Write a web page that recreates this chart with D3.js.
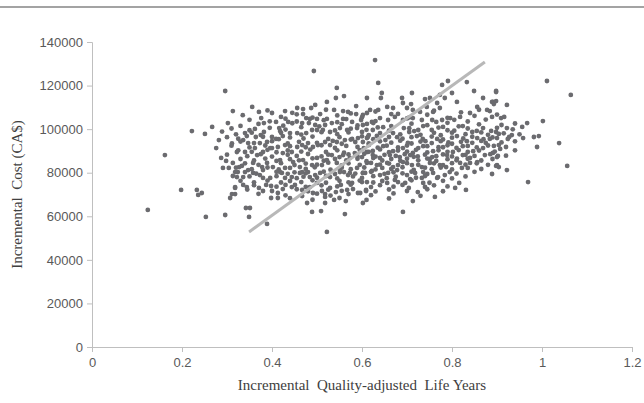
<!DOCTYPE html>
<html>
<head>
<meta charset="utf-8">
<script src="https://cdn.jsdelivr.net/npm/d3@7.9.0/dist/d3.min.js"></script>
<style>
  body { margin: 0; background: #fff; }
  svg { display: block; }
</style>
</head>
<body>
<div id="chart"></div>
<script>
// x ticks and y ticks
const xTicks = [0, 0.2, 0.4, 0.6, 0.8, 1, 1.2];
const yTicks = [0, 20000, 40000, 60000, 80000, 100000, 120000, 140000];

// trend line end points [qaly, cost]
const trendLine = [[0.349, 52800], [0.873, 130800]];

// scattered points: [incremental QALY, incremental cost]
const leftPoints = [
  [0.162, 88100], [0.276, 91300], [0.322, 89500], [0.287, 86800], [0.298, 85400],
  [0.291, 82200], [0.304, 82200], [0.327, 82600], [0.313, 78500], [0.322, 78000],
  [0.198, 72100], [0.233, 72100], [0.244, 70700], [0.236, 69800], [0.318, 73000],
  [0.318, 70200], [0.307, 68400], [0.124, 62900], [0.253, 59700], [0.296, 60600],
  [0.222, 99100], [0.296, 117500], [0.267, 101000], [0.282, 95000], [0.251, 97800],
  [0.302, 102800], [0.311, 93400], [0.289, 98900]
];

const topPoints = [
  [0.493, 126700], [0.544, 118900], [0.629, 131700], [1.011, 122100], [1.064, 115700],
  [0.542, 114300], [0.560, 115200], [0.636, 121200], [0.791, 122100], [0.778, 120300],
  [0.833, 121600]
];

const upperLeftPoints = [
  [0.356, 110200], [0.313, 108300], [0.522, 112500], [0.587, 110600], [0.371, 107900],
  [0.400, 107400], [0.429, 108300], [0.456, 109700], [0.469, 109200], [0.487, 109700],
  [0.496, 111100], [0.507, 106900], [0.538, 108800], [0.558, 108300], [0.569, 107900],
  [0.587, 106900], [0.611, 107400], [0.376, 105100], [0.382, 102800], [0.409, 103300],
  [0.436, 103300], [0.469, 106900], [0.476, 105100], [0.484, 104700], [0.500, 104700],
  [0.522, 104700], [0.467, 102800], [0.482, 102800], [0.496, 101900], [0.518, 101900],
  [0.533, 102800], [0.558, 104700], [0.578, 103300], [0.598, 104200], [0.611, 102400],
  [0.362, 100100], [0.382, 98700], [0.416, 100500], [0.418, 99100], [0.340, 98200],
  [0.344, 96800], [0.336, 95000], [0.347, 93600], [0.364, 96400], [0.373, 93600],
  [0.389, 94100], [0.400, 96400], [0.409, 95500], [0.424, 96800], [0.440, 98200],
  [0.456, 98200], [0.476, 98200], [0.489, 99600], [0.500, 99600], [0.513, 99600],
  [0.529, 98700], [0.551, 100500], [0.567, 99600], [0.589, 100500], [0.600, 98700]
];

const midLeftPoints = [
  [0.340, 89500], [0.362, 91300], [0.367, 88100], [0.380, 89500], [0.396, 91300],
  [0.413, 91800], [0.429, 92700], [0.424, 89000], [0.444, 89500], [0.456, 91800],
  [0.467, 92700], [0.480, 93600], [0.491, 91800], [0.502, 92700], [0.518, 94100],
  [0.529, 92700], [0.544, 94100], [0.562, 95000], [0.578, 95500], [0.591, 95900],
  [0.602, 94100], [0.613, 96400], [0.313, 84500], [0.333, 83100], [0.324, 80300],
  [0.347, 81200], [0.358, 84500], [0.378, 82600], [0.389, 84500], [0.402, 82600],
  [0.418, 85800], [0.429, 82200], [0.447, 84900], [0.462, 82600], [0.469, 85800],
  [0.489, 83500], [0.500, 86800], [0.511, 83500], [0.522, 85800], [0.533, 88100],
  [0.544, 84500], [0.558, 88100], [0.573, 86800], [0.584, 89000], [0.600, 87200],
  [0.611, 89500], [0.336, 78000], [0.373, 78900], [0.396, 77600], [0.422, 79900],
  [0.444, 78000], [0.462, 79900], [0.484, 78000], [0.507, 79900], [0.529, 78000],
  [0.551, 81200], [0.569, 78900], [0.589, 82200], [0.607, 79900]
];

const lowerLeftPoints = [
  [0.318, 80300], [0.358, 79900], [0.380, 81200], [0.418, 80300], [0.429, 77600],
  [0.467, 80300], [0.480, 80300], [0.496, 78900], [0.551, 80300], [0.573, 79900],
  [0.602, 79900], [0.318, 73400], [0.336, 74400], [0.344, 73400], [0.371, 73000],
  [0.387, 74400], [0.398, 73900], [0.400, 71600], [0.413, 70700], [0.424, 72500],
  [0.444, 73400], [0.451, 74400], [0.467, 72100], [0.484, 73400], [0.491, 70700],
  [0.500, 75300], [0.511, 71600], [0.518, 70200], [0.529, 73000], [0.542, 71100],
  [0.553, 74400], [0.567, 72100], [0.578, 75300], [0.591, 70700], [0.600, 75700],
  [0.609, 72100], [0.311, 70200], [0.398, 68400], [0.413, 68400], [0.467, 69300],
  [0.478, 66100], [0.518, 68900], [0.518, 66100], [0.538, 67500], [0.564, 67000],
  [0.602, 66100], [0.342, 63800], [0.351, 63800], [0.349, 59700], [0.489, 62000],
  [0.509, 62400], [0.562, 61000], [0.389, 56500], [0.522, 52800]
];

const upperRightPoints = [
  [0.644, 116600], [0.642, 114300], [0.611, 114300], [0.689, 114300], [0.711, 116600],
  [0.691, 112000], [0.709, 111500], [0.740, 113800], [0.751, 114300], [0.849, 117500],
  [0.869, 114300], [0.898, 117000], [0.891, 112500], [0.773, 115700], [0.784, 114300],
  [0.800, 116600], [0.811, 112500], [0.767, 112000], [0.773, 109700], [0.758, 107900],
  [0.744, 110200], [0.729, 107900], [0.713, 108800], [0.700, 109700], [0.669, 109700],
  [0.656, 110200], [0.636, 108800], [0.618, 108800], [0.602, 106500], [0.856, 110200],
  [0.878, 108800], [0.840, 107400], [0.818, 105600], [0.889, 105600], [0.796, 105100],
  [0.778, 104200], [0.756, 104200], [0.733, 104200], [0.713, 105100], [0.691, 104200],
  [0.673, 105600], [0.658, 104200], [0.640, 105100], [0.622, 103300], [0.602, 101900]
];

const coreRightPoints = [
  [0.624, 99600], [0.647, 100900], [0.669, 98200], [0.693, 100500], [0.716, 99100],
  [0.736, 101400], [0.755, 99600], [0.780, 101000], [0.805, 99300], [0.824, 101400],
  [0.845, 98700], [0.869, 100500], [0.887, 99200], [0.611, 95900], [0.633, 96900],
  [0.652, 95000], [0.678, 96300], [0.702, 93700], [0.722, 96800], [0.741, 94500],
  [0.767, 95500], [0.792, 93900], [0.811, 96800], [0.833, 94500], [0.856, 95900],
  [0.875, 93700], [0.900, 95900], [0.604, 91300], [0.624, 90000], [0.647, 92200],
  [0.669, 89900], [0.691, 91300], [0.713, 89100], [0.736, 92200], [0.758, 89900],
  [0.780, 91700], [0.802, 89500], [0.824, 92200], [0.847, 89900], [0.869, 91300],
  [0.891, 89100], [0.624, 88100], [0.640, 86800], [0.662, 88100], [0.684, 87200],
  [0.707, 88100], [0.724, 87500], [0.751, 86300], [0.756, 87200], [0.789, 88100],
  [0.811, 86500], [0.824, 88100], [0.840, 86800], [0.856, 84900], [0.873, 88100],
  [0.900, 87200], [0.611, 84500], [0.633, 83500], [0.656, 84500], [0.669, 82600],
  [0.691, 84900], [0.711, 83500], [0.733, 82600], [0.751, 84500], [0.773, 83500],
  [0.787, 82600], [0.818, 84500], [0.822, 82200], [0.840, 84500], [0.900, 83500],
  [0.602, 79900], [0.622, 80800], [0.640, 78900], [0.658, 79900], [0.678, 81200],
  [0.700, 78900], [0.718, 79900], [0.736, 80300], [0.758, 79900], [0.769, 78000],
  [0.784, 78900], [0.889, 79400]
];

const lowerRightPoints = [
  [0.611, 75700], [0.656, 75300], [0.673, 76700], [0.696, 75300], [0.707, 77100],
  [0.733, 77600], [0.736, 75300], [0.767, 77600], [0.609, 71600], [0.596, 70700],
  [0.704, 73000], [0.724, 71100], [0.807, 73000], [0.816, 75300], [0.831, 72100],
  [0.762, 68900], [0.713, 67000], [0.691, 62000]
];

const farRightPoints = [
  [0.898, 117500], [0.889, 112500], [0.893, 111500], [0.898, 112900], [0.922, 111100],
  [0.884, 108300], [0.909, 105100], [0.916, 105600], [1.002, 103700], [0.967, 102800],
  [0.956, 101000], [0.922, 100500], [0.898, 98700], [0.904, 97800], [0.933, 97300],
  [0.927, 96400], [0.924, 95500], [0.884, 95500], [0.982, 96400], [0.993, 96800],
  [0.958, 95900], [1.038, 93600], [0.904, 92700], [0.893, 92300], [0.907, 90900],
  [0.989, 91800], [0.902, 87700], [0.898, 83100], [0.904, 82600], [0.922, 81200],
  [1.056, 83100], [0.969, 75700]
];

// the crowded middle of the cloud, where the dots overlap
const denseUpper = [
  [0.390, 108600], [0.445, 107500], [0.520, 108900], [0.575, 107200], [0.630, 108100],
  [0.680, 107000], [0.760, 108500], [0.820, 107700], [0.860, 108900],
  [0.335, 106400], [0.420, 105600], [0.455, 106800], [0.490, 105300], [0.545, 106300],
  [0.600, 105500], [0.665, 106900], [0.705, 105400], [0.745, 106600], [0.790, 105200],
  [0.850, 106100], [0.900, 106700],
  [0.350, 104300], [0.395, 103600], [0.430, 104800], [0.455, 103500], [0.515, 104100],
  [0.545, 103200], [0.565, 104600], [0.630, 103700], [0.700, 104900], [0.765, 103300],
  [0.805, 104300], [0.835, 103500], [0.875, 104400],
  [0.330, 101500], [0.370, 102400], [0.425, 101600], [0.445, 102700], [0.505, 101300],
  [0.555, 102300], [0.590, 101700], [0.625, 102800], [0.665, 101400], [0.710, 102500],
  [0.745, 101800], [0.790, 102900], [0.815, 101300], [0.860, 102200], [0.910, 101900],
  [0.940, 102600],
  [0.310, 100300], [0.350, 99500], [0.395, 100600], [0.430, 99800], [0.465, 100900],
  [0.540, 99400], [0.575, 100200], [0.610, 99700], [0.635, 100800], [0.660, 99300],
  [0.705, 100400], [0.725, 99600], [0.770, 100700], [0.790, 99500], [0.835, 100300],
  [0.855, 99200], [0.900, 100600], [0.935, 99900],
  [0.320, 97600], [0.355, 98400], [0.375, 97300], [0.420, 98300], [0.465, 97500],
  [0.510, 98600], [0.545, 97700], [0.570, 98500], [0.615, 97300], [0.640, 98200],
  [0.685, 97600], [0.705, 98700], [0.730, 97400], [0.760, 98300], [0.775, 97200],
  [0.800, 98400], [0.830, 97700], [0.865, 98500], [0.880, 97400], [0.915, 98100],
  [0.950, 97600]
];

const denseMiddle = [
  [0.300, 96300], [0.325, 95600], [0.380, 96500], [0.415, 95400], [0.440, 96200],
  [0.470, 95700], [0.490, 96600], [0.525, 95500], [0.550, 96300], [0.575, 95200],
  [0.600, 96700], [0.625, 95400], [0.660, 96400], [0.690, 95600], [0.710, 96300],
  [0.735, 95500], [0.755, 96600], [0.780, 95300], [0.800, 96100], [0.825, 95700],
  [0.845, 96500], [0.870, 95400], [0.890, 96200],
  [0.330, 94300], [0.360, 93600], [0.400, 94500], [0.435, 93400], [0.460, 94200],
  [0.500, 93700], [0.535, 94600], [0.555, 93300], [0.585, 94100], [0.615, 93500],
  [0.640, 94400], [0.665, 93800], [0.685, 94700], [0.710, 93400], [0.730, 94300],
  [0.755, 93600], [0.775, 94500], [0.800, 93300], [0.820, 94200], [0.845, 93700],
  [0.865, 94600], [0.910, 93900], [0.940, 94400],
  [0.310, 92400], [0.350, 91600], [0.385, 92500], [0.400, 91300], [0.440, 92200],
  [0.475, 91700], [0.510, 92600], [0.540, 91400], [0.565, 92300], [0.590, 91800],
  [0.615, 92700], [0.635, 91500], [0.655, 92400], [0.680, 91600], [0.700, 92500],
  [0.725, 91300], [0.745, 92200], [0.770, 91700], [0.790, 92600], [0.810, 91400],
  [0.835, 92300], [0.855, 91600], [0.880, 92500], [0.920, 91800],
  [0.325, 90300], [0.355, 89600], [0.390, 90500], [0.410, 89400], [0.435, 90200],
  [0.465, 89700], [0.485, 90600], [0.520, 89500], [0.545, 90300], [0.560, 89200],
  [0.595, 90400], [0.615, 89600], [0.640, 90700], [0.660, 89400], [0.680, 90200],
  [0.700, 89700], [0.720, 90500], [0.745, 89300], [0.770, 90300], [0.790, 89600],
  [0.815, 90400], [0.835, 89500], [0.860, 90200], [0.895, 89700], [0.940, 90300],
  [0.300, 88300], [0.345, 87600], [0.375, 88500], [0.400, 87400], [0.435, 88200],
  [0.455, 87700], [0.480, 88600], [0.510, 87500], [0.525, 88300], [0.550, 87200],
  [0.570, 88400], [0.590, 87600], [0.605, 88700], [0.630, 87400], [0.650, 88200],
  [0.675, 87700], [0.695, 88500], [0.715, 87300], [0.740, 88300], [0.765, 87600],
  [0.780, 88400], [0.800, 87500], [0.830, 88200], [0.850, 87700], [0.885, 88500],
  [0.920, 87800]
];

const denseLower = [
  [0.330, 86300], [0.360, 85600], [0.385, 86500], [0.410, 85400], [0.440, 86200],
  [0.460, 85700], [0.490, 86600], [0.515, 85500], [0.540, 86300], [0.565, 85600],
  [0.590, 86400], [0.610, 85300], [0.625, 86700], [0.645, 85600], [0.665, 86300],
  [0.685, 85500], [0.700, 86400], [0.725, 85700], [0.745, 86500], [0.765, 85400],
  [0.790, 86200], [0.810, 85700], [0.835, 86400], [0.865, 85600], [0.890, 86300],
  [0.340, 84300], [0.370, 83600], [0.420, 84400], [0.450, 83500], [0.475, 84200],
  [0.500, 83700], [0.525, 84600], [0.555, 83400], [0.570, 84300], [0.595, 83600],
  [0.620, 84500], [0.640, 83700], [0.660, 84200], [0.680, 83500], [0.700, 84400],
  [0.725, 83600], [0.760, 84300], [0.780, 83500], [0.800, 84400], [0.830, 83700],
  [0.855, 84300], [0.880, 83600],
  [0.320, 82300], [0.355, 81600], [0.390, 82400], [0.415, 81500], [0.440, 82200],
  [0.475, 81700], [0.495, 82500], [0.530, 81400], [0.555, 82300], [0.575, 81600],
  [0.605, 82400], [0.630, 81500], [0.645, 82200], [0.665, 81700], [0.690, 82500],
  [0.715, 81300], [0.740, 82300], [0.755, 81600], [0.775, 82400], [0.800, 81500],
  [0.835, 82200], [0.865, 81700],
  [0.340, 80300], [0.365, 79600], [0.410, 80400], [0.435, 79500], [0.450, 80200],
  [0.475, 79700], [0.515, 80500], [0.540, 79400], [0.560, 80300], [0.585, 79600],
  [0.620, 80400], [0.650, 79500], [0.670, 80200], [0.690, 79700], [0.710, 80500],
  [0.745, 79400], [0.795, 80300], [0.810, 79600], [0.850, 80400],
  [0.350, 78300], [0.380, 77600], [0.410, 78400], [0.455, 77500], [0.470, 78200],
  [0.500, 77700], [0.520, 78500], [0.545, 77400], [0.580, 78300], [0.600, 77600],
  [0.625, 78400], [0.655, 77500], [0.675, 78200], [0.720, 77700], [0.740, 78500],
  [0.800, 77400], [0.830, 78300],
  [0.330, 76300], [0.360, 75600], [0.390, 76400], [0.420, 75500], [0.440, 76200],
  [0.465, 75700], [0.490, 76500], [0.520, 75400], [0.550, 76300], [0.570, 75600],
  [0.595, 76400], [0.625, 75500], [0.645, 76200], [0.680, 75700], [0.710, 76500],
  [0.750, 75400], [0.780, 76300],
  [0.360, 74300], [0.410, 73600], [0.430, 74400], [0.475, 73500], [0.510, 74200],
  [0.545, 73700], [0.575, 74500], [0.620, 73400], [0.640, 74300], [0.670, 73600],
  [0.690, 74400], [0.740, 73500], [0.760, 74200], [0.790, 73700],
  [0.345, 72300], [0.380, 71600], [0.455, 72400], [0.480, 71500], [0.525, 72200],
  [0.555, 71700], [0.580, 72500], [0.630, 71400], [0.660, 72300], [0.700, 71600],
  [0.745, 72400], [0.780, 71500],
  [0.370, 70300], [0.430, 69600], [0.500, 70400], [0.530, 69500], [0.570, 70200],
  [0.620, 69700], [0.670, 70500], [0.730, 69400],
  [0.440, 68300], [0.490, 67600], [0.550, 68400], [0.610, 67500], [0.660, 68200]
];

const points = [].concat(
  leftPoints, topPoints, upperLeftPoints, midLeftPoints, lowerLeftPoints,
  upperRightPoints, coreRightPoints, lowerRightPoints, farRightPoints,
  denseUpper, denseMiddle, denseLower
);

const width = 644;
const height = 403;
const margin = { top: 42, right: 12, bottom: 56, left: 92 };

const svg = d3.select('#chart')
  .append('svg')
  .attr('width', width)
  .attr('height', height);

// thin rule at the very top of the figure
svg.append('rect')
  .attr('x', 0).attr('y', 6)
  .attr('width', width).attr('height', 2)
  .attr('fill', '#a3a3a3');

const xScale = d3.scaleLinear()
  .domain([0, 1.2])
  .range([margin.left, width - margin.right]);

const yScale = d3.scaleLinear()
  .domain([0, 140000])
  .range([height - margin.bottom, margin.top]);

const axisColor = '#bfbfbf';
const labelColor = '#595959';

// x axis
const xAxis = svg.append('g')
  .attr('transform', `translate(0, ${yScale(0)})`)
  .call(d3.axisBottom(xScale).tickValues(xTicks).tickSize(5).tickPadding(6)
    .tickFormat(d => String(d)));

// y axis
const yAxis = svg.append('g')
  .attr('transform', `translate(${xScale(0)}, 0)`)
  .call(d3.axisLeft(yScale).tickValues(yTicks).tickSize(5).tickPadding(4)
    .tickFormat(d => String(d)));

[xAxis, yAxis].forEach(g => {
  g.select('.domain').attr('stroke', axisColor).attr('stroke-width', 1);
  g.selectAll('.tick line').attr('stroke', axisColor);
  g.selectAll('.tick text')
    .attr('fill', labelColor)
    .style('font-family', '"Liberation Sans", Arial, sans-serif')
    .style('font-size', '13px');
});

// points
svg.append('g')
  .selectAll('circle')
  .data(points)
  .join('circle')
  .attr('cx', d => xScale(d[0]))
  .attr('cy', d => yScale(d[1]))
  .attr('r', 2.4)
  .attr('fill', '#6b6b6f');

// trend line
svg.append('line')
  .attr('x1', xScale(trendLine[0][0]))
  .attr('y1', yScale(trendLine[0][1]))
  .attr('x2', xScale(trendLine[1][0]))
  .attr('y2', yScale(trendLine[1][1]))
  .attr('stroke', '#b8b8b8')
  .attr('stroke-width', 3);

// axis titles
svg.append('text')
  .attr('x', (xScale(0) + xScale(1.2)) / 2)
  .attr('y', 390)
  .attr('text-anchor', 'middle')
  .attr('fill', '#404040')
  .style('font-family', '"Liberation Serif", "Times New Roman", serif')
  .style('font-size', '15px')
  .style('white-space', 'pre')
  .text('Incremental  Quality-adjusted  Life Years');

svg.append('text')
  .attr('transform', `translate(22, ${(yScale(0) + yScale(140000)) / 2}) rotate(-90)`)
  .attr('text-anchor', 'middle')
  .attr('fill', '#404040')
  .style('font-family', '"Liberation Serif", "Times New Roman", serif')
  .style('font-size', '15px')
  .style('white-space', 'pre')
  .text('Incremental  Cost (CA$)');
</script>
</body>
</html>
